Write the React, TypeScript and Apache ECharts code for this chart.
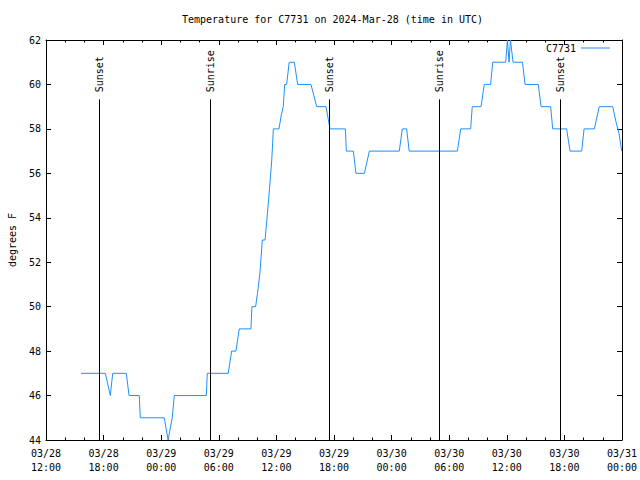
import React, { useEffect, useRef } from "react";
import * as echarts from "echarts";

const chartTitle = "Temperature for C7731 on 2024-Mar-28 (time in UTC)";
const seriesName = "C7731";
const yAxisName = "degrees F";

const xTickLabels = [
  "03/28\n12:00", "03/28\n18:00", "03/29\n00:00", "03/29\n06:00", "03/29\n12:00",
  "03/29\n18:00", "03/30\n00:00", "03/30\n06:00", "03/30\n12:00", "03/30\n18:00", "03/31\n00:00",
];
const xStartDay = 28;
const xStartHour = 12;
const xSpanHours = 60;
const xStepHours = 6;
const yMin = 44;
const yMax = 62;
const yStep = 2;

const readingTimes = [
  "03/28 15:39", "03/28 18:11", "03/28 18:42", "03/28 18:57", "03/28 20:22", "03/28 20:39",
  "03/28 21:43", "03/28 21:49", "03/29 00:19", "03/29 00:43", "03/29 01:09", "03/29 01:22",
  "03/29 04:42", "03/29 04:48", "03/29 06:59", "03/29 07:20", "03/29 07:47", "03/29 08:08",
  "03/29 09:21", "03/29 09:27", "03/29 09:50", "03/29 10:02", "03/29 10:17", "03/29 10:32",
  "03/29 10:49", "03/29 11:04", "03/29 11:17", "03/29 11:31", "03/29 11:41", "03/29 12:16",
  "03/29 12:30", "03/29 12:43", "03/29 12:52", "03/29 13:04", "03/29 13:20", "03/29 13:52",
  "03/29 14:13", "03/29 15:36", "03/29 16:12", "03/29 17:10", "03/29 17:35", "03/29 19:11",
  "03/29 19:17", "03/29 20:01", "03/29 20:17", "03/29 21:10", "03/29 21:41", "03/30 00:48",
  "03/30 01:07", "03/30 01:34", "03/30 01:50", "03/30 06:51", "03/30 07:12", "03/30 08:14",
  "03/30 08:24", "03/30 09:19", "03/30 09:39", "03/30 10:19", "03/30 10:32", "03/30 11:53",
  "03/30 12:04", "03/30 12:14", "03/30 12:23", "03/30 12:39", "03/30 13:38", "03/30 13:54",
  "03/30 15:17", "03/30 15:34", "03/30 16:34", "03/30 16:47", "03/30 18:14", "03/30 18:35",
  "03/30 19:48", "03/30 20:03", "03/30 21:07", "03/30 21:38", "03/30 23:02", "03/30 23:23",
  "03/30 23:41", "03/30 23:58",
];
const temperatures = [
  47, 47, 46, 47, 47, 46,
  46, 45, 45, 44, 45, 46,
  46, 47, 47, 48, 48, 49,
  49, 50, 50, 50.6, 51.5, 53,
  53, 54.2, 55.3, 56.6, 58, 58,
  58.6, 59, 60, 60, 61, 61,
  60, 60, 59, 59, 58, 58,
  57, 57, 56, 56, 57, 57,
  58, 58, 57, 57, 58, 58,
  59, 59, 60, 60, 61, 61,
  62, 61, 62, 61, 61, 60,
  60, 59, 59, 58, 58, 57,
  57, 58, 58, 59, 59, 58.3,
  57.8, 57,
];

const sunEventTimes = ["03/28 17:33", "03/29 05:08", "03/29 17:31", "03/30 04:58", "03/30 17:34"];
const sunEventLabels = ["Sunset", "Sunrise", "Sunset", "Sunrise", "Sunset"];

const FONT = '"DejaVu Sans Mono", "Liberation Mono", monospace';
const FONT_SIZE = 10;
const LINE_COLOR = "#1e90ff";
const MARKER_TOP = 59.33;

function toHours(s: string): number {
  const [md, hm] = s.split(" ");
  const day = Number(md.split("/")[1]);
  const [h, m] = hm.split(":").map(Number);
  return (day - xStartDay) * 24 + h + m / 60 - xStartHour;
}

export default function App() {
  const ref = useRef<HTMLDivElement>(null);

  useEffect(() => {
    if (!ref.current) return;
    const chart = echarts.init(ref.current, null, { renderer: "svg" });

    const data = readingTimes.map((t, i) => [toHours(t), temperatures[i]]);

    const baseX = {
      type: "value" as const,
      min: 0,
      max: xSpanHours,
      interval: xStepHours,
      gridIndex: 0,
      axisLine: { show: true, onZero: false, lineStyle: { color: "#000", width: 1 } },
      axisTick: { show: true, inside: true, length: 5, lineStyle: { color: "#000", width: 1 } },
      minorTick: { show: true, splitNumber: 3, length: 2.5, lineStyle: { color: "#000", width: 1 } },
      splitLine: { show: false },
      minorSplitLine: { show: false },
    };
    const baseY = {
      type: "value" as const,
      min: yMin,
      max: yMax,
      interval: yStep,
      gridIndex: 0,
      axisLine: { show: true, onZero: false, lineStyle: { color: "#000", width: 1 } },
      axisTick: { show: true, inside: true, length: 5, lineStyle: { color: "#000", width: 1 } },
      splitLine: { show: false },
    };

    const option: any = {
      animation: false,
      backgroundColor: "#fff",
      title: {
        text: chartTitle,
        left: 182,
        top: 14,
        padding: 0,
        textStyle: { fontFamily: FONT, fontSize: FONT_SIZE, fontWeight: "normal", color: "#000" },
      },
      legend: {
        data: [{ name: seriesName, icon: "rect" }],
        right: 30,
        top: 43,
        padding: 0,
        align: "right",
        itemWidth: 29,
        itemHeight: 1,
        textStyle: { fontFamily: FONT, fontSize: FONT_SIZE, color: "#000" },
      },
      grid: { left: 46, right: 18, top: 40, bottom: 40, containLabel: false, outerBoundsMode: "none" },
      xAxis: [
        {
          ...baseX,
          position: "bottom",
          axisLabel: {
            show: true,
            margin: 6,
            fontFamily: FONT,
            fontSize: FONT_SIZE,
            lineHeight: 14,
            color: "#000",
            formatter: (v: number) => xTickLabels[Math.round(v / xStepHours)] ?? "",
          },
        },
        { ...baseX, position: "top", axisLabel: { show: false } },
      ],
      yAxis: [
        {
          ...baseY,
          position: "left",
          name: yAxisName,
          nameLocation: "middle",
          nameGap: 29,
          nameRotate: 90,
          nameTextStyle: { fontFamily: FONT, fontSize: FONT_SIZE, color: "#000" },
          axisLabel: { show: true, margin: 5, fontFamily: FONT, fontSize: FONT_SIZE, color: "#000" },
        },
        { ...baseY, position: "right", axisLabel: { show: false } },
      ],
      series: [
        {
          type: "line",
          name: seriesName,
          data,
          xAxisIndex: 0,
          yAxisIndex: 0,
          symbol: "none",
          clip: true,
          lineStyle: { color: LINE_COLOR, width: 1 },
          itemStyle: { color: LINE_COLOR },
          markLine: {
            silent: true,
            symbol: ["none", "none"],
            label: { show: false },
            lineStyle: { color: "#000", width: 1, type: "solid" },
            data: sunEventTimes.map((t) => [
              { coord: [toHours(t), yMin] },
              { coord: [toHours(t), MARKER_TOP] },
            ]),
          },
        },
      ],
    };

    chart.setOption(option);

    const labelY = (chart.convertToPixel({ yAxisIndex: 0 }, MARKER_TOP) as number) - 7;
    chart.setOption({
      graphic: sunEventTimes.map((t, i) => ({
        type: "text",
        x: chart.convertToPixel({ xAxisIndex: 0 }, toHours(t)) as number,
        y: labelY,
        rotation: Math.PI / 2,
        silent: true,
        style: {
          text: sunEventLabels[i],
          fontFamily: FONT,
          fontSize: FONT_SIZE,
          fill: "#000",
          align: "left",
          verticalAlign: "middle",
        },
      })),
    });

    return () => chart.dispose();
  }, []);

  return <div ref={ref} style={{ width: 640, height: 480, position: "absolute", left: 0, top: 0 }} />;
}
